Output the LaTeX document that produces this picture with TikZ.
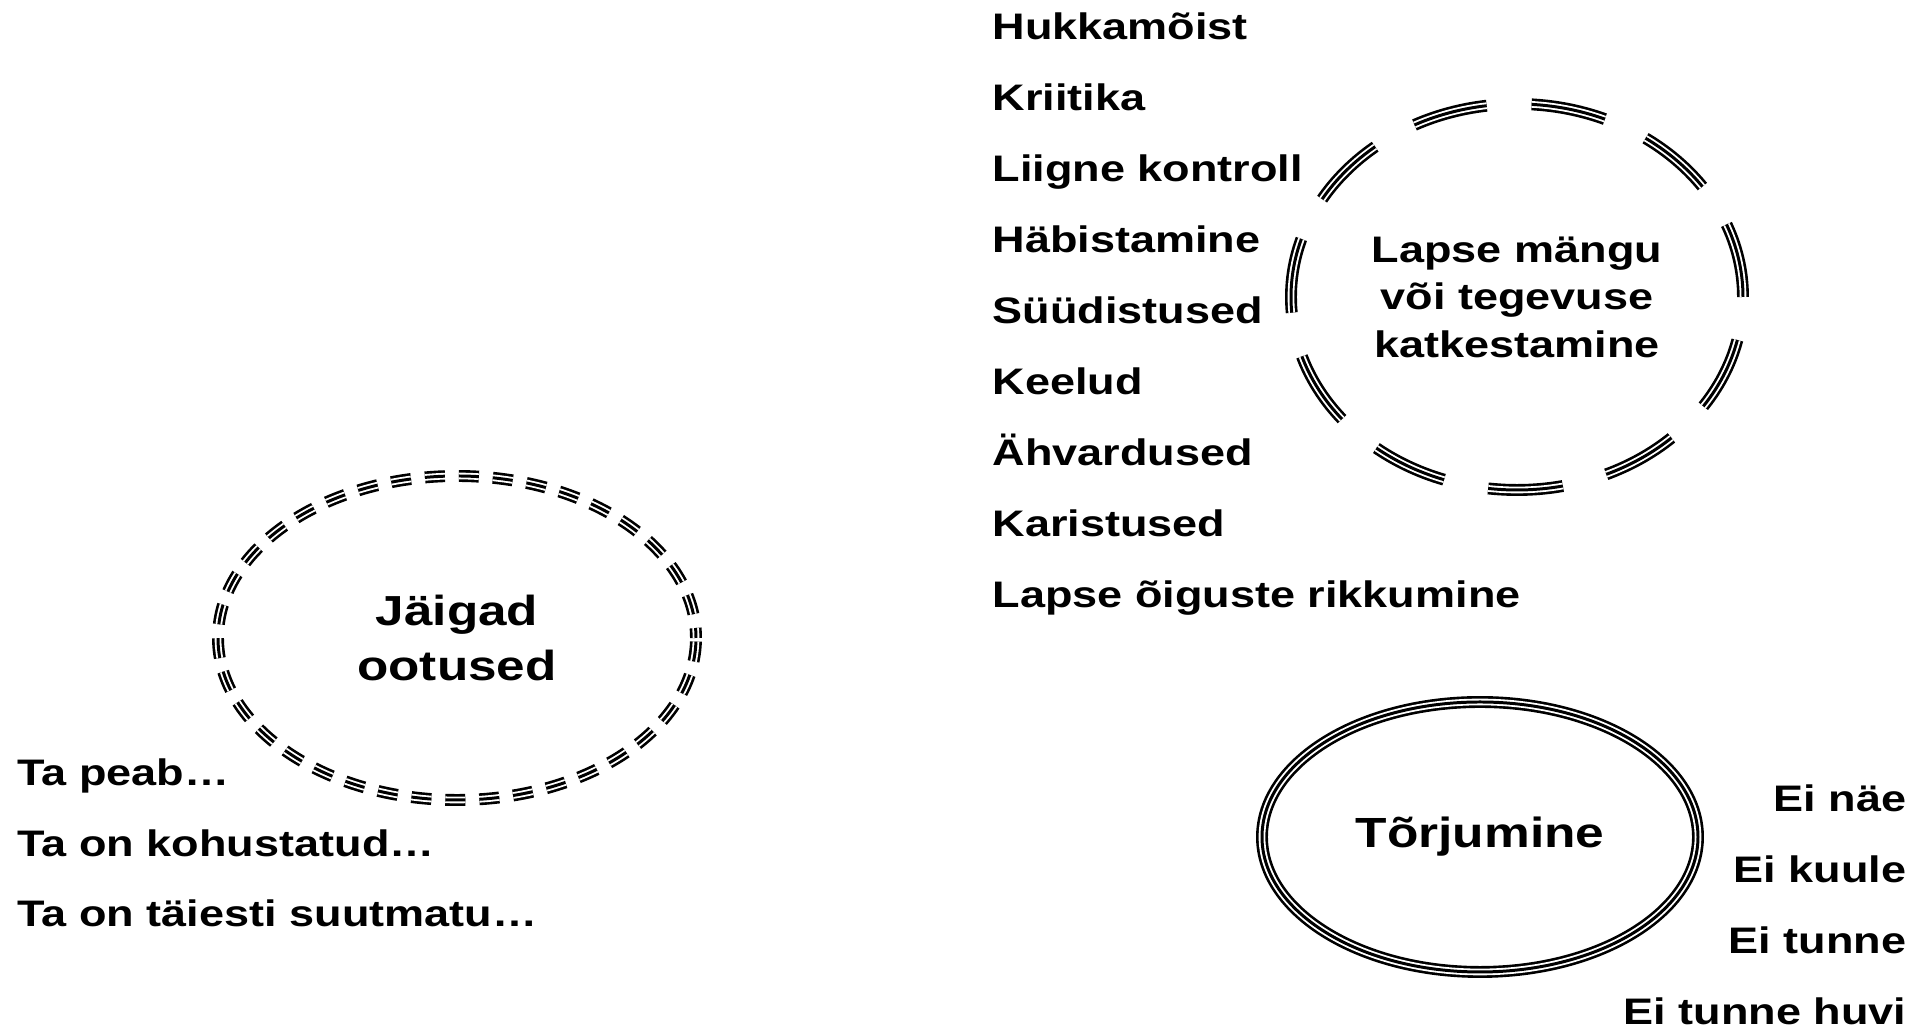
\documentclass[tikz,border=0pt]{standalone}
\usepackage{fontspec}
\setmainfont{Liberation Sans}[FakeStretch=1.22]
\usetikzlibrary{shapes.geometric}
\tikzset{
  triple/.style={draw=black, line width=3.4pt, #1,
    postaction={draw=white, line width=1.9pt, #1},
    postaction={draw=black, line width=0.85pt, #1}},
  triple/.default=solid,
  sona/.style={inner sep=0pt, font=\fontsize{10.5}{12}\selectfont\bfseries},
  keskne/.style={ellipse, inner sep=0pt, align=center}
}
\begin{document}
\begin{tikzpicture}[line join=round]
			\useasboundingbox (0,0) rectangle (19.21,10.28);
			% Jäigad ootused
			\node[keskne, triple={dash pattern=on 2mm off 1.4mm, dash phase=1mm}, minimum width=4.78cm, minimum height=3.24cm, font=\fontsize{11.95}{15.9}\selectfont\bfseries] (ootused) at (4.57,3.90) {Jäigad\\ootused};
			% Lapse mängu katkestamine
			\node[keskne, triple={dash pattern=on 7.5mm off 4.5mm}, minimum width=4.52cm, minimum height=3.86cm, font=\fontsize{10.5}{13.5}\selectfont\bfseries] (katkestamine) at (15.17,7.31) {Lapse mängu\\või tegevuse\\katkestamine};
			% Tõrjumine
			\node[keskne, triple, minimum width=4.36cm, minimum height=2.70cm, font=\fontsize{12}{14}\selectfont\bfseries] (torjumine) at (14.80,1.91) {Tõrjumine};
			% ülemine loend
			\foreach \t [count=\i] in {Hukkamõist, Kriitika, Liigne kontroll, Häbistamine, Süüdistused, Keelud, Ähvardused, Karistused, Lapse õiguste rikkumine}
				\node[sona, anchor=base west] (tegu\i) at (9.92, {9.88-0.71*(\i-1)}) {\t};
			% vasak loend
			\foreach \t [count=\i] in {Ta peab…, Ta on kohustatud…, Ta on täiesti suutmatu…}
				\node[sona, anchor=base west] (ta\i) at (0.17, {2.42-0.705*(\i-1)}) {\t};
			% parem loend
			\foreach \t [count=\i] in {Ei näe, Ei kuule, Ei tunne, Ei tunne huvi}
				\node[sona, anchor=base east] (ei\i) at (19.07, {2.16-0.707*(\i-1)}) {\t};
		\end{tikzpicture}
\end{document}
